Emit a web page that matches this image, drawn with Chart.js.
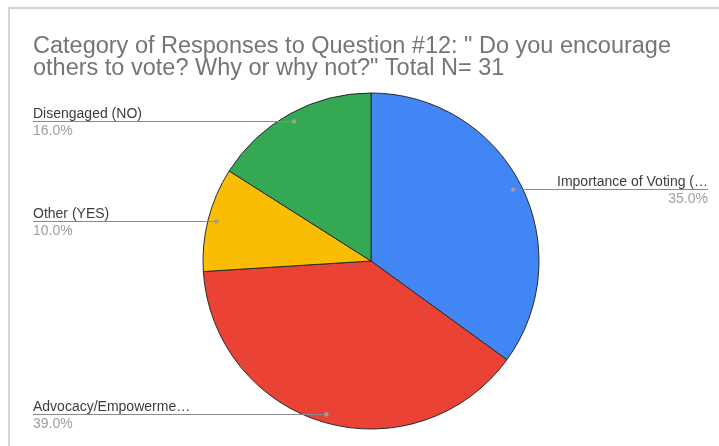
<!DOCTYPE html>
<html>
<head>
<meta charset="utf-8">
<script src="https://cdn.jsdelivr.net/npm/chart.js@4"></script>
<style>
html,body{margin:0;padding:0;background:#fff;}
#wrap{width:719px;height:446px;position:relative;}
</style>
</head>
<body>
<div id="wrap"><canvas id="c" width="719" height="446"></canvas></div>
<script>
const titleLines = ['Category of Responses to Question #12: " Do you encourage', 'others to vote? Why or why not?" Total N= 31'];
const categories = ['Importance of Voting (\u2026', 'Advocacy/Empowerme\u2026', 'Other (YES)', 'Disengaged (NO)'];
const values = [35, 39, 10, 16];
const colors = ['#4285F4', '#EA4335', '#FBBC04', '#34A853'];

const FONT = '"Liberation Sans", Arial, sans-serif';

const labelPlugin = {
  id: 'labelPlugin',
  beforeDraw(chart) {
    const ctx = chart.ctx;
    ctx.save();
    ctx.strokeStyle = '#d3d3d3';
    ctx.lineWidth = 2;
    ctx.beginPath();
    ctx.moveTo(8, 8); ctx.lineTo(719, 8);
    ctx.moveTo(9, 8); ctx.lineTo(9, 446);
    ctx.stroke();
    ctx.fillStyle = '#757575';
    ctx.font = '23.5px ' + FONT;
    ctx.textBaseline = 'alphabetic';
    ctx.textAlign = 'left';
    ctx.fillText(titleLines[0], 33, 53);
    ctx.fillText(titleLines[1], 33, 75);
    ctx.restore();
  },
  afterDraw(chart) {
    const ctx = chart.ctx;
    const meta = chart.getDatasetMeta(0);
    const total = values.reduce((a, b) => a + b, 0);
    ctx.save();
    meta.data.forEach((arc, i) => {
      const mid = (arc.startAngle + arc.endAngle) / 2;
      const r = arc.outerRadius * 0.95;
      const dx = arc.x + Math.cos(mid) * r;
      const dy = arc.y + Math.sin(mid) * r;
      const left = Math.cos(mid) < 0;
      const ly = Math.round(dy) + 0.5;
      const x0 = left ? 33 : 708;
      ctx.strokeStyle = '#8a8a8a';
      ctx.lineWidth = 1;
      ctx.beginPath();
      ctx.moveTo(x0, ly);
      ctx.lineTo(dx, ly);
      ctx.stroke();
      ctx.fillStyle = '#9e9e9e';
      ctx.beginPath();
      ctx.arc(dx, ly, 2.2, 0, Math.PI * 2);
      ctx.fill();
      ctx.textAlign = left ? 'left' : 'right';
      ctx.textBaseline = 'alphabetic';
      ctx.font = '14px ' + FONT;
      ctx.fillStyle = '#3c3c3c';
      ctx.fillText(categories[i], x0, ly - 4);
      ctx.fillStyle = '#a0a0a0';
      ctx.fillText((values[i] / total * 100).toFixed(1) + '%', x0, ly + 13);
    });
    ctx.restore();
  }
};

new Chart(document.getElementById('c'), {
  type: 'pie',
  data: {
    labels: categories,
    datasets: [{
      data: values,
      backgroundColor: colors,
      borderColor: '#2a2a2a',
      borderWidth: 1,
      radius: 168
    }]
  },
  options: {
    responsive: false,
    animation: false,
    devicePixelRatio: 1,
    layout: { padding: { left: 203, right: 180, top: 93, bottom: 17 } },
    plugins: {
      legend: { display: false },
      tooltip: { enabled: false },
      title: { display: false }
    }
  },
  plugins: [labelPlugin]
});
</script>
</body>
</html>
